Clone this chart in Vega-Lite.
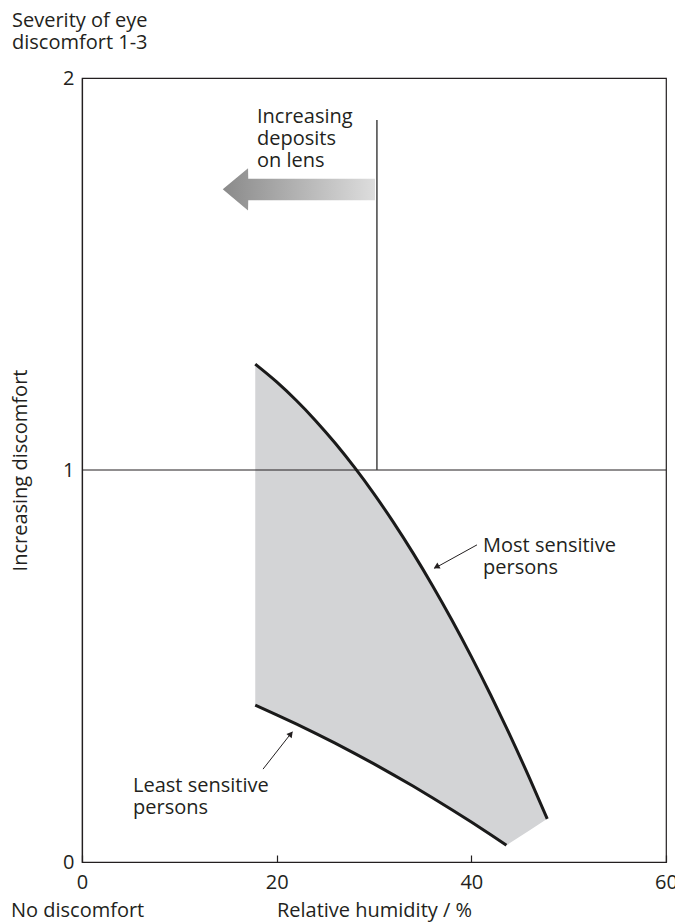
{
  "$schema": "https://vega.github.io/schema/vega-lite/v6.json",
  "width": 584,
  "height": 784,
  "autosize": {"type": "none"},
  "padding": {"left": 82, "top": 78, "right": 9, "bottom": 62},
  "background": "white",
  "config": {
    "font": "Open Sans",
    "view": {"stroke": "#231f20", "strokeWidth": 1.2},
    "axis": {"labelFont": "Open Sans", "titleFont": "Open Sans", "labelColor": "#231f20", "titleColor": "#231f20", "labelFontSize": 20, "titleFontSize": 20, "titleFontWeight": "normal", "domainColor": "#231f20", "domainWidth": 1.2, "grid": false, "labelOverlap": false}
  },
  "title": {
    "text": ["Severity of eye", "discomfort 1-3"],
    "anchor": "start",
    "frame": "group",
    "dx": -70,
    "offset": 15,
    "fontSize": 20,
    "fontWeight": "normal",
    "color": "#231f20",
    "lineHeight": 22,
    "font": "Open Sans"
  },
  "datasets": {
    "band": [
      {"x": 17.8, "hi": 1.27, "lo": 0.400},
      {"x": 20, "hi": 1.2246, "lo": 0.3755},
      {"x": 22, "hi": 1.1778, "lo": 0.3523},
      {"x": 24, "hi": 1.1259, "lo": 0.3282},
      {"x": 26, "hi": 1.0688, "lo": 0.3031},
      {"x": 28, "hi": 1.0065, "lo": 0.2771},
      {"x": 30, "hi": 0.9391, "lo": 0.2502},
      {"x": 32, "hi": 0.8664, "lo": 0.2224},
      {"x": 34, "hi": 0.7886, "lo": 0.1937},
      {"x": 36, "hi": 0.7056, "lo": 0.1640},
      {"x": 38, "hi": 0.6174, "lo": 0.1335},
      {"x": 40, "hi": 0.5240, "lo": 0.1020},
      {"x": 42, "hi": 0.4254, "lo": 0.0696},
      {"x": 43.6, "hi": 0.3428, "lo": 0.043},
      {"x": 44, "hi": 0.3216, "lo": 0.049},
      {"x": 46, "hi": 0.2127, "lo": 0.081},
      {"x": 47.8, "hi": 0.1102, "lo": 0.1102}
    ],
    "arrow": [
      {"x": 14.46, "top": 1.716, "bot": 1.716},
      {"x": 17.06, "top": 1.77, "bot": 1.662},
      {"x": 17.08, "top": 1.743, "bot": 1.688},
      {"x": 30.1, "top": 1.743, "bot": 1.688}
    ],
    "pointers": [
      {"x": 40.58, "y": 0.809, "x2": 36.2, "y2": 0.749, "hx": 36.41, "hy": 0.753, "angle": 242},
      {"x": 18.6, "y": 0.237, "x2": 21.6, "y2": 0.332, "hx": 21.46, "hy": 0.327, "angle": 38.5}
    ],
    "labels": [
      {"x": 41.2, "y": 0.791, "t": "Most sensitive\npersons"},
      {"x": 5.24, "y": 0.179, "t": "Least sensitive\npersons"},
      {"x": 17.98, "y": 1.885, "t": "Increasing\ndeposits\non lens"},
      {"x": -7.3, "y": -0.14, "t": "No discomfort"}
    ],
    "hline": [{"y": 1}],
    "vline": [{"x": 30.3, "y": 1, "y2": 1.893}]
  },
  "layer": [
    {
      "data": {"name": "band"},
      "mark": {"type": "area", "interpolate": "monotone", "fill": "#d3d4d6", "stroke": null},
      "encoding": {
        "x": {"field": "x", "type": "quantitative", "scale": {"domain": [0, 60], "nice": false},
          "axis": {"values": [0, 20, 40, 60], "format": ".0f", "title": "Relative humidity / %", "tickSize": -7, "tickColor": "#231f20", "tickWidth": 1.2, "labelPadding": 17, "labelFlush": false, "labelOverlap": false, "titlePadding": 8}},
        "y": {"field": "hi", "type": "quantitative", "scale": {"domain": [0, 2], "nice": false},
          "axis": {"values": [0, 1, 2], "format": ".0f", "title": "Increasing discomfort", "ticks": false, "labelPadding": 8, "labelOverlap": false, "labelFlush": false, "titlePadding": 32}},
        "y2": {"field": "lo"}
      }
    },
    {
      "data": {"name": "hline"},
      "mark": {"type": "rule", "color": "#231f20", "strokeWidth": 1},
      "encoding": {"y": {"field": "y", "type": "quantitative"}}
    },
    {
      "data": {"name": "vline"},
      "mark": {"type": "rule", "color": "#444444", "strokeWidth": 1.5},
      "encoding": {"x": {"field": "x", "type": "quantitative"}, "y": {"field": "y", "type": "quantitative"}, "y2": {"field": "y2"}}
    },
    {
      "data": {"name": "arrow"},
      "mark": {"type": "area", "interpolate": "linear", "fill": {"gradient": "linear", "x1": 0, "x2": 1, "y1": 0, "y2": 0, "stops": [{"offset": 0, "color": "#8a8a8a"}, {"offset": 1, "color": "#dddddd"}]}, "stroke": null},
      "encoding": {"x": {"field": "x", "type": "quantitative"}, "y": {"field": "top", "type": "quantitative"}, "y2": {"field": "bot"}}
    },
    {
      "data": {"name": "band"},
      "mark": {"type": "line", "interpolate": "monotone", "color": "#1a1a1a", "strokeWidth": 3, "strokeCap": "butt"},
      "encoding": {"x": {"field": "x", "type": "quantitative"}, "y": {"field": "hi", "type": "quantitative"}}
    },
    {
      "data": {"name": "band"},
      "transform": [{"filter": "datum.x <= 43.6"}],
      "mark": {"type": "line", "interpolate": "monotone", "color": "#1a1a1a", "strokeWidth": 3, "strokeCap": "butt"},
      "encoding": {"x": {"field": "x", "type": "quantitative"}, "y": {"field": "lo", "type": "quantitative"}}
    },
    {
      "data": {"name": "pointers"},
      "mark": {"type": "rule", "color": "#231f20", "strokeWidth": 1},
      "encoding": {"x": {"field": "x", "type": "quantitative"}, "y": {"field": "y", "type": "quantitative"}, "x2": {"field": "x2"}, "y2": {"field": "y2"}}
    },
    {
      "data": {"name": "pointers"},
      "mark": {"type": "point", "shape": "triangle-up", "filled": true, "color": "#231f20", "size": 45, "opacity": 1},
      "encoding": {"x": {"field": "hx", "type": "quantitative"}, "y": {"field": "hy", "type": "quantitative"}, "angle": {"field": "angle", "type": "quantitative", "scale": null}}
    },
    {
      "data": {"name": "labels"},
      "mark": {"type": "text", "align": "left", "baseline": "alphabetic", "fontSize": 20, "lineHeight": 22, "lineBreak": "\n", "color": "#231f20", "font": "Open Sans"},
      "encoding": {"x": {"field": "x", "type": "quantitative"}, "y": {"field": "y", "type": "quantitative"}, "text": {"field": "t"}}
    }
  ]
}
